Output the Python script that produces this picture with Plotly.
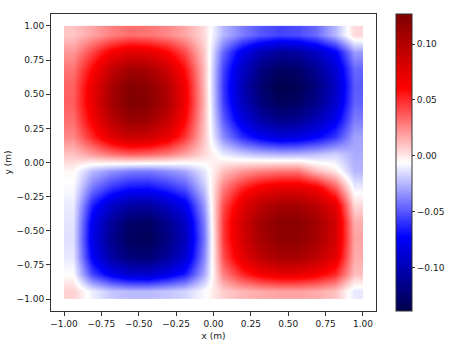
import plotly.graph_objects as go

# cell centres (m) of the field grid, spanning -1..1
x_centers = [-0.9375, -0.8125, -0.6875, -0.5625, -0.4375, -0.3125, -0.1875, -0.0625,
             0.0625, 0.1875, 0.3125, 0.4375, 0.5625, 0.6875, 0.8125, 0.9375]
y_centers = [-0.9375, -0.8125, -0.6875, -0.5625, -0.4375, -0.3125, -0.1875, -0.0625,
             0.0625, 0.1875, 0.3125, 0.4375, 0.5625, 0.6875, 0.8125, 0.9375]

# field values, rows from bottom (y=-0.94) to top (y=0.94)
field = [
    [0.006, -0.010, -0.021, -0.024, -0.024, -0.021, -0.017, -0.007, 0.007, 0.013, 0.016, 0.018, 0.018, 0.016, 0.010, -0.012],
    [-0.006, -0.055, -0.078, -0.090, -0.092, -0.081, -0.066, -0.028, 0.027, 0.050, 0.065, 0.072, 0.072, 0.065, 0.050, 0.011],
    [-0.012, -0.075, -0.106, -0.122, -0.124, -0.109, -0.089, -0.037, 0.040, 0.074, 0.095, 0.106, 0.106, 0.095, 0.074, 0.016],
    [-0.014, -0.081, -0.115, -0.132, -0.135, -0.119, -0.097, -0.041, 0.045, 0.082, 0.106, 0.118, 0.118, 0.106, 0.082, 0.018],
    [-0.013, -0.078, -0.110, -0.127, -0.130, -0.114, -0.093, -0.039, 0.046, 0.084, 0.108, 0.120, 0.120, 0.108, 0.084, 0.015],
    [-0.011, -0.065, -0.092, -0.106, -0.108, -0.095, -0.078, -0.032, 0.040, 0.074, 0.095, 0.106, 0.106, 0.095, 0.074, 0.004],
    [-0.007, -0.042, -0.060, -0.069, -0.070, -0.062, -0.051, -0.021, 0.028, 0.052, 0.067, 0.074, 0.074, 0.067, 0.038, -0.010],
    [-0.004, -0.024, -0.034, -0.040, -0.041, -0.036, -0.029, -0.012, 0.011, 0.021, 0.027, 0.030, 0.030, 0.012, 0.000, -0.025],
    [0.010, 0.020, 0.030, 0.036, 0.034, 0.028, 0.018, 0.004, -0.011, -0.019, -0.024, -0.026, -0.026, -0.023, -0.018, -0.028],
    [0.025, 0.050, 0.075, 0.089, 0.085, 0.071, 0.046, 0.009, -0.036, -0.061, -0.076, -0.085, -0.082, -0.073, -0.058, -0.030],
    [0.032, 0.064, 0.096, 0.114, 0.110, 0.091, 0.059, 0.011, -0.048, -0.083, -0.104, -0.115, -0.112, -0.099, -0.078, -0.040],
    [0.036, 0.071, 0.107, 0.127, 0.122, 0.102, 0.066, 0.013, -0.056, -0.096, -0.120, -0.133, -0.129, -0.115, -0.091, -0.047],
    [0.035, 0.070, 0.105, 0.124, 0.119, 0.100, 0.065, 0.012, -0.058, -0.100, -0.125, -0.139, -0.135, -0.120, -0.095, -0.049],
    [0.030, 0.060, 0.091, 0.108, 0.104, 0.086, 0.056, 0.011, -0.055, -0.094, -0.118, -0.131, -0.127, -0.112, -0.089, -0.046],
    [0.021, 0.043, 0.064, 0.076, 0.073, 0.061, 0.040, 0.008, -0.046, -0.079, -0.099, -0.110, -0.107, -0.094, -0.075, -0.032],
    [0.009, 0.018, 0.027, 0.032, 0.030, 0.025, 0.017, 0.003, -0.025, -0.040, -0.050, -0.055, -0.053, -0.045, -0.025, 0.004],
]

axis_ticks = [-1.0, -0.75, -0.5, -0.25, 0.0, 0.25, 0.5, 0.75, 1.0]
cbar_ticks = [-0.10, -0.05, 0.00, 0.05, 0.10]
z_min, z_max = -0.139, 0.127

seismic = [[0.0, "rgb(0,0,76)"], [0.25, "rgb(0,0,255)"], [0.5, "rgb(255,255,255)"],
           [0.75, "rgb(255,0,0)"], [1.0, "rgb(127,0,0)"]]

font = dict(family="DejaVu Sans", size=9, color="#1a1a1a")

fig = go.Figure(go.Heatmap(
    x=x_centers, y=y_centers, z=field, zsmooth="best",
    zmin=z_min, zmax=z_max, colorscale=seismic,
    colorbar=dict(
        x=1.0615, xanchor="left", xpad=0, y=0.5, yanchor="middle", ypad=0,
        len=297, lenmode="pixels", thickness=16, thicknessmode="pixels",
        outlinewidth=1, outlinecolor="#333333",
        tickvals=cbar_ticks, tickformat=".2f", ticks="outside", ticklen=3,
        tickcolor="#333333", tickfont=font,
    ),
))

axis_common = dict(
    range=[-1.087, 1.087], tickvals=axis_ticks, tickformat=".2f",
    ticks="outside", ticklen=4, tickcolor="#333333", tickfont=font,
    showline=True, linecolor="#333333", linewidth=1, mirror=True,
    showgrid=False, zeroline=False, automargin=False,
)

fig.update_layout(
    width=456, height=344,
    margin=dict(l=51, r=80, t=14, b=33, autoexpand=False),
    paper_bgcolor="white", plot_bgcolor="white",
    font=font,
    xaxis=dict(axis_common, title=dict(text="x (m)", font=font, standoff=4)),
    yaxis=dict(axis_common, title=dict(text="y (m)", font=font, standoff=3)),
)

fig.write_html("out.html")
